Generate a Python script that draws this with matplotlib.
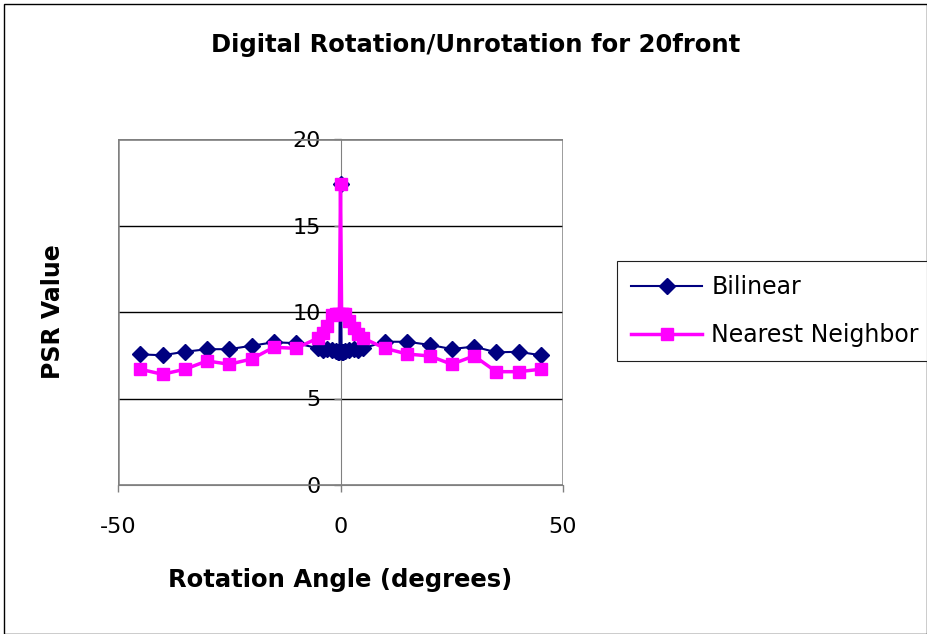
import numpy as np
import matplotlib.pyplot as plt
from matplotlib.patches import Rectangle

plt.rcParams['font.family'] = ['DejaVu Sans']
plt.rcParams['axes.unicode_minus'] = False

# rotation angles (degrees), dense sampling close to zero
angles = [-45, -40, -35, -30, -25, -20, -15, -10, -5, -4, -3, -2, -1, -0.5, -0.25,
          0, 0.25, 0.5, 1, 2, 3, 4, 5, 10, 15, 20, 25, 30, 35, 40, 45]

bilinear = [7.55, 7.5, 7.7, 7.85, 7.85, 8.05, 8.25, 8.2, 7.9, 7.8, 7.85, 7.8, 7.75, 7.7, 7.7,
            17.4, 7.7, 7.7, 7.75, 7.8, 7.85, 7.8, 7.9, 8.28, 8.28, 8.1, 7.86, 8.0, 7.67, 7.7, 7.5]

nearest = [6.69, 6.4, 6.69, 7.17, 6.98, 7.28, 7.96, 7.9, 8.5, 8.8, 9.2, 9.8, 9.9, 9.9, 9.9,
           17.4, 9.9, 9.9, 9.9, 9.5, 9.1, 8.7, 8.5, 7.9, 7.57, 7.46, 6.98, 7.46, 6.55, 6.55, 6.69]

fig = plt.figure(figsize=(9.27, 6.34), dpi=100)
ax = fig.add_axes([118/927, 149/634, 445/927, 346/634])

ax.plot(angles, bilinear, color='#000080', lw=1.5, marker='D', ms=8,
        label='Bilinear', zorder=3)
ax.plot(angles, nearest, color='#FF00FF', lw=2.5, marker='s', ms=8.5,
        label='Nearest Neighbor', zorder=4)

ax.set_xlim(-50, 50)
ax.set_ylim(0, 20)
ax.set_xticks([-50, 0, 50])
ax.set_yticks([0, 5, 10, 15, 20])
ax.grid(axis='y', color='black', lw=1)
ax.set_axisbelow(True)

# value axis crosses at x = 0, like the spreadsheet chart
ax.spines['left'].set_position(('data', 0))
ax.spines['left'].set_color('#808080')
ax.spines['bottom'].set_color('#808080')
ax.spines['top'].set_visible(False)
ax.spines['right'].set_visible(False)
ax.add_patch(Rectangle((0, 0), 1, 1, transform=ax.transAxes, fill=False,
                       edgecolor='#808080', lw=1.8, zorder=1))

ax.tick_params(axis='y', direction='out', length=5, width=1, color='#808080',
               pad=9, labelsize=16)
ax.tick_params(axis='x', direction='out', length=5, width=1, color='#808080',
               pad=18, labelsize=16)

ax.set_xlabel('Rotation Angle (degrees)', fontsize=17.5, fontweight='bold', labelpad=22)
fig.text(53/927, 1 - 312/634, 'PSR Value', rotation=90, fontsize=17,
         fontweight='bold', ha='center', va='center')
fig.text(476/927, 1 - 45/634, 'Digital Rotation/Unrotation for 20front',
         fontsize=17.5, fontweight='bold', ha='center', va='center')

leg = fig.legend(loc='lower left', bbox_to_anchor=(617/927, 1 - 361/634, 310/927, 99/634),
                 mode='expand', borderaxespad=0, fontsize=17, handlelength=3.0,
                 handletextpad=0.4, labelspacing=1.0, borderpad=0.6, fancybox=False,
                 framealpha=1, edgecolor='#202020')
leg.get_frame().set_linewidth(0.8)

# outer chart border
fig.add_artist(Rectangle((4/927, 0.5/634), 922.5/927, 629.5/634, transform=fig.transFigure,
                         fill=False, edgecolor='black', lw=1))

fig.savefig('out.png', dpi=100)
